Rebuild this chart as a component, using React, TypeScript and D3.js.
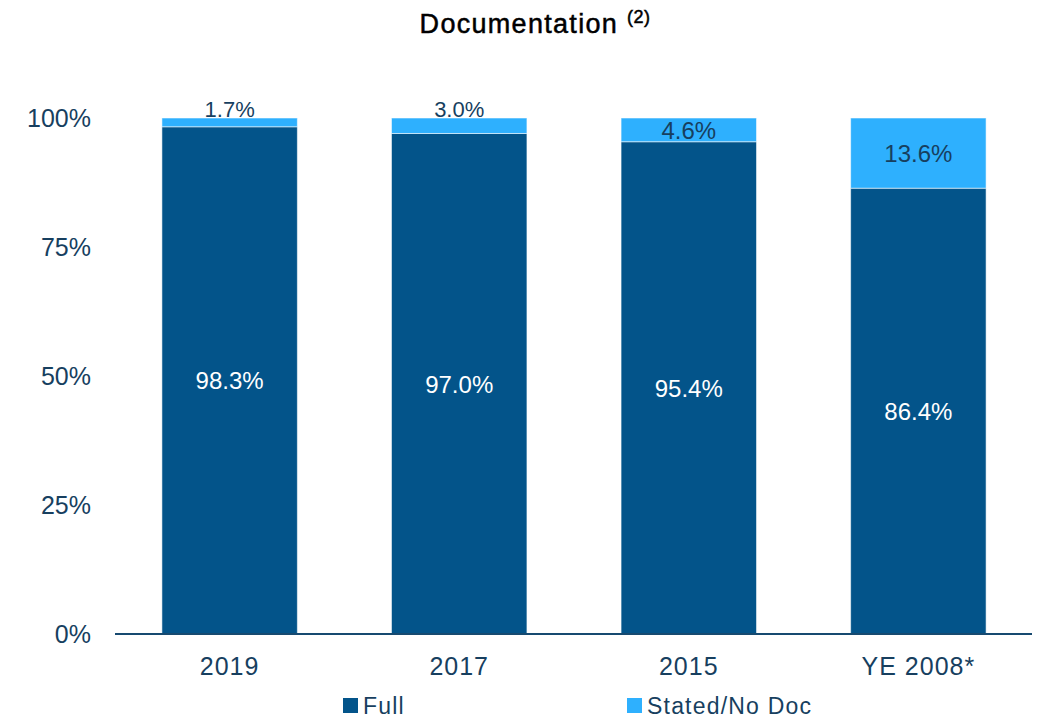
import React, { useEffect, useRef } from 'react'
import * as d3 from 'd3'

const categories = ['2019', '2017', '2015', 'YE 2008*']
const fullValues = [98.3, 97.0, 95.4, 86.4]
const statedValues = [1.7, 3.0, 4.6, 13.6]
const yTicks = [0, 25, 50, 75, 100]
const seriesNames = ['Full', 'Stated/No Doc']

const W = 1043
const H = 719
const margin = { top: 118, right: 11, bottom: 85, left: 116 }
const DARK = '#03548a'
const LIGHT = '#2eb0fe'
const TEXT = '#173f5f'
const FONT = '"Liberation Sans", Arial, sans-serif'

export default function App() {
  const node = useRef<SVGSVGElement>(null)

  useEffect(() => {
    const svg = d3.select(node.current)
    svg.selectAll('*').remove()

    const x = d3.scaleBand()
      .domain(categories)
      .range([margin.left, W - margin.right])
      .paddingInner(0.41)
      .paddingOuter(0.2)

    const y = d3.scaleLinear()
      .domain([0, 100])
      .range([H - margin.bottom, margin.top])

    const rows = categories.map((c, i) => ({ c, full: fullValues[i], stated: statedValues[i] }))
    const stacked = d3.stack<any>().keys(['full', 'stated'])(rows)
    const colors = [DARK, LIGHT]

    // title
    const title = svg.append('text')
      .attr('x', 535).attr('y', 33)
      .attr('text-anchor', 'middle')
      .attr('font-family', FONT)
      .attr('font-size', 27)
      .attr('letter-spacing', 1.3)
      .attr('fill', '#000')
      .attr('stroke', '#000')
      .attr('stroke-width', 0.5)
    title.append('tspan').text('Documentation ')
    title.append('tspan').attr('font-size', 18).attr('dy', -10).attr('letter-spacing', 0.5).text('(2)')

    // bars
    stacked.forEach((s, si) => {
      svg.append('g')
        .selectAll('rect')
        .data(s)
        .join('rect')
        .attr('x', d => x(d.data.c)!)
        .attr('width', x.bandwidth())
        .attr('y', d => y(d[1]))
        .attr('height', d => y(d[0]) - y(d[1]))
        .attr('fill', colors[si])
        .attr('stroke', 'rgba(255,255,255,0.55)')
        .attr('stroke-width', 1)
    })

    // segment labels
    stacked.forEach((s, si) => {
      svg.append('g')
        .selectAll('text')
        .data(s)
        .join('text')
        .attr('x', d => x(d.data.c)! + x.bandwidth() / 2)
        .attr('y', d => {
          const top = y(d[1]), bottom = y(d[0])
          if (bottom - top < 20) return top - 1
          return (top + bottom) / 2 + 9
        })
        .attr('text-anchor', 'middle')
        .attr('font-family', FONT)
        .attr('font-size', d => (y(d[0]) - y(d[1]) < 20 ? 22 : 24))
        .attr('fill', si === 0 ? '#fff' : TEXT)
        .text(d => (d[1] - d[0]).toFixed(1) + '%')
    })

    // y axis labels
    svg.append('g')
      .selectAll('text')
      .data(yTicks)
      .join('text')
      .attr('x', 91)
      .attr('y', d => y(d) + 9)
      .attr('text-anchor', 'end')
      .attr('font-family', FONT)
      .attr('font-size', 25)
      .attr('fill', TEXT)
      .text(d => d + '%')

    // x axis
    svg.append('line')
      .attr('x1', margin.left - 1).attr('x2', W - margin.right)
      .attr('y1', y(0)).attr('y2', y(0))
      .attr('stroke', '#174a70').attr('stroke-width', 2)

    svg.append('g')
      .selectAll('text')
      .data(categories)
      .join('text')
      .attr('x', d => x(d)! + x.bandwidth() / 2)
      .attr('y', 675)
      .attr('text-anchor', 'middle')
      .attr('font-family', FONT)
      .attr('font-size', 25)
      .attr('letter-spacing', 1)
      .attr('fill', TEXT)
      .text(d => d)

    // legend
    const legendX = [343, 627]
    const lg = svg.append('g')
      .selectAll('g')
      .data(seriesNames)
      .join('g')
      .attr('transform', (d, i) => `translate(${legendX[i]},698)`)
    lg.append('rect')
      .attr('width', 15).attr('height', 15)
      .attr('fill', (d, i) => colors[i])
    lg.append('text')
      .attr('x', 20).attr('y', 16)
      .attr('font-family', FONT)
      .attr('font-size', 23)
      .attr('letter-spacing', 1.2)
      .attr('fill', TEXT)
      .text(d => d)
  }, [])

  return (
    <svg ref={node} width={W} height={H}
      style={{ position: 'absolute', left: 0, top: 0, background: '#fff' }} />
  )
}
